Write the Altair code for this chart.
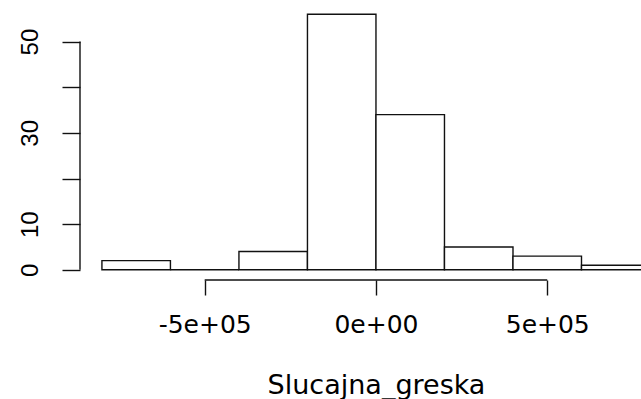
import altair as alt
import pandas as pd

# Histogram data
bin_starts = [-800000, -600000, -400000, -200000, 0, 200000, 400000, 600000]
bin_ends = [-600000, -400000, -200000, 0, 200000, 400000, 600000, 800000]
counts = [2, 0, 4, 56, 34, 5, 3, 1]

x_tick_values = [-500000, 0, 500000]
x_tick_labels = ["-5e+05", "0e+00", "5e+05"]
y_tick_values = [0, 10, 20, 30, 40, 50]
y_tick_labels = ["0", "10", "", "30", "", "50"]
x_title = "Slucajna_greska"

x_domain = [-864000, 773700]
y_domain = [-2.24, 58.24]


def label_expr(vals, labs):
    expr = "''"
    for v, l in reversed(list(zip(vals, labs))):
        expr = f"datum.value == {v} ? '{l}' : ({expr})"
    return expr


bars_df = pd.DataFrame({
    "x0": bin_starts,
    "x1": bin_ends,
    "y0": [0] * len(counts),
    "y1": counts,
})

xs = alt.Scale(domain=x_domain, nice=False, zero=False)
ys = alt.Scale(domain=y_domain, nice=False, zero=False)

x_axis = alt.Axis(
    values=x_tick_values,
    labelExpr=label_expr(x_tick_values, x_tick_labels),
    domain=False, grid=False,
    tickSize=15, tickColor="#111111", tickWidth=1.4,
    labelFont="DejaVu Sans", labelFontSize=25, labelColor="black",
    labelBaseline="alphabetic", labelAlign="center", labelPadding=37,
    labelOverlap=False, labelFlush=False, labelBound=False,
    title=x_title, titleFont="DejaVu Sans", titleFontSize=27,
    titleFontWeight="normal", titleColor="black",
    titleX=296, titleY=113, titleAlign="center", titleBaseline="alphabetic",
    titleAnchor="start",
)

y_axis = alt.Axis(
    values=y_tick_values,
    labelExpr=label_expr(y_tick_values, y_tick_labels),
    domain=False, grid=False,
    tickSize=18, tickColor="#111111", tickWidth=1.4,
    labelFont="Liberation Sans", labelFontSize=24, labelColor="black",
    labelAngle=270, labelAlign="center", labelBaseline="alphabetic",
    labelPadding=25,
    labelOverlap=False, labelFlush=False, labelBound=False,
    title="",
)

bars = alt.Chart(bars_df).mark_rect(
    fill="white", stroke="#111111", strokeWidth=1.4, clip=True
).encode(
    x=alt.X("x0:Q", scale=xs, axis=x_axis),
    x2="x1:Q",
    y=alt.Y("y0:Q", scale=ys, axis=y_axis),
    y2="y1:Q",
)

yline = alt.Chart(pd.DataFrame({"y0": [y_tick_values[0]], "y1": [y_tick_values[-1]]})).mark_rule(
    color="#111111", strokeWidth=1.4
).encode(
    x=alt.value(0),
    y=alt.Y("y0:Q", scale=ys),
    y2="y1:Q",
)

xline = alt.Chart(pd.DataFrame({"x0": [x_tick_values[0]], "x1": [x_tick_values[-1]]})).mark_rule(
    color="#111111", strokeWidth=1.4
).encode(
    y=alt.value(276),
    x=alt.X("x0:Q", scale=xs),
    x2="x1:Q",
)

chart = alt.layer(bars, yline, xline).properties(
    width=561,
    height=276,
    autosize=alt.AutoSizeParams(type="none"),
    padding={"left": 80, "top": 4, "right": 0, "bottom": 119},
    background="white",
).configure_view(stroke=None)

chart.save("out.html", embed_options={"renderer": "svg", "actions": False})
